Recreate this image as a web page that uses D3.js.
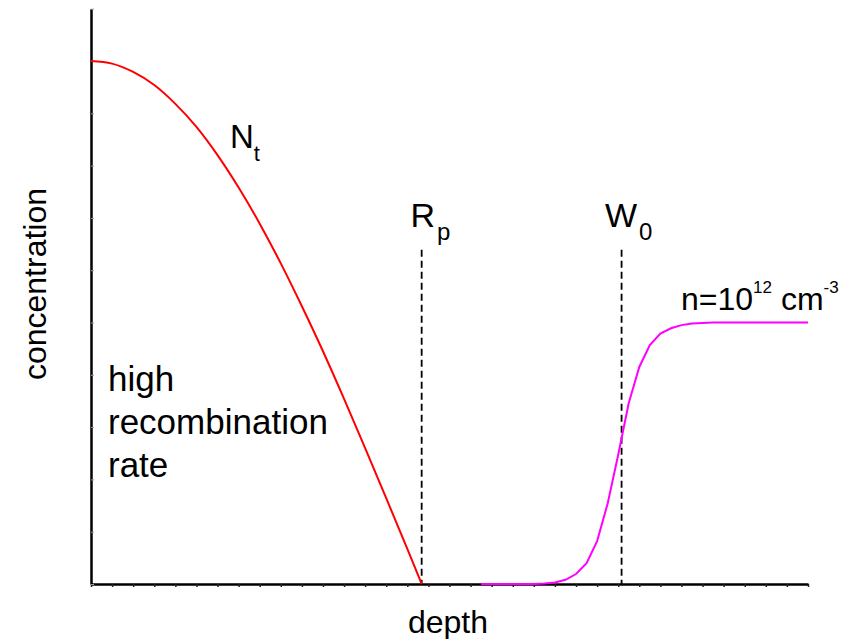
<!DOCTYPE html>
<html>
<head>
<meta charset="utf-8">
<script src="https://cdn.jsdelivr.net/npm/d3@7"></script>
<style>
  html, body { margin: 0; padding: 0; background: #fff; }
  svg { display: block; }
  text { font-family: "Liberation Sans", Arial, Helvetica, sans-serif; fill: #000; }
</style>
</head>
<body>
<svg id="chart" width="861" height="639"></svg>
<script>
// Trap density N_t versus depth (arbitrary units)
const trapDepth = [0, 1, 2, 3, 4, 5, 6, 7, 8, 9, 10, 11, 12, 13, 14, 15, 15.68];
const trapConc  = [10, 9.95, 9.79, 9.54, 9.18, 8.74, 8.20, 7.58, 6.89, 6.13, 5.31,
                   4.45, 3.54, 2.60, 1.64, 0.67, 0];

// Free carrier concentration n (saturates at 10^12 cm^-3)
const carrierDepth = [18.5, 19, 19.5, 20, 20.5, 21, 21.5, 22, 22.5, 23, 23.5, 24, 24.5, 25,
                      25.5, 26, 26.5, 27, 27.5, 28, 28.5, 29, 29.5, 30, 31, 32, 33, 34];
const carrierConc  = [0, 0, 0, 0, 0, 0, 0.01, 0.03, 0.08, 0.19, 0.40, 0.82, 1.54, 2.47,
                      3.46, 4.15, 4.57, 4.79, 4.89, 4.95, 4.98, 4.99, 5, 5, 5, 5, 5, 5];

// Marker depths: projected range R_p and depletion edge W_0
const markerNames = ["R", "W"];
const markerSubs  = ["p", "0"];
const markerDepth = [15.68, 25.16];
const markerTop   = 6.39;

// Axis extents and tick values
const xDomain = [0, 34];
const yDomain = [0, 11];
const xTicks = d3.range(0, 35, 1);
const yTicks = d3.range(0, 12, 1);

const svg = d3.select("#chart");
const x = d3.scaleLinear().domain(xDomain).range([91, 808]);
const y = d3.scaleLinear().domain(yDomain).range([584, 8.7]);

// Axes (no tick labels, small ticks)
const gx = svg.append("g").attr("transform", `translate(0,${y(0)})`)
  .call(d3.axisBottom(x).tickValues(xTicks).tickSize(3).tickSizeOuter(0).tickFormat(""));
gx.select(".domain").attr("stroke", "#000").attr("stroke-width", 2.5);
gx.selectAll(".tick line").attr("stroke", "#222").attr("stroke-width", 1.5);

const gy = svg.append("g").attr("transform", `translate(${x(0)},0)`)
  .call(d3.axisRight(y).tickValues(yTicks).tickSize(3).tickSizeOuter(0).tickFormat(""));
gy.select(".domain").attr("stroke", "#000").attr("stroke-width", 2.5);
gy.selectAll(".tick line").attr("stroke", "#999").attr("stroke-width", 1);

// Dashed marker lines
svg.append("g").selectAll("line")
  .data(markerDepth)
  .join("line")
  .attr("x1", d => x(d)).attr("x2", d => x(d))
  .attr("y1", y(markerTop)).attr("y2", y(0))
  .attr("stroke", "#000").attr("stroke-width", 1.8)
  .attr("stroke-dasharray", "7,4");

// Curves
const trapData = trapDepth.map((d, i) => [d, trapConc[i]]);
const carrierData = carrierDepth.map((d, i) => [d, carrierConc[i]]);

svg.append("path")
  .datum(trapData)
  .attr("fill", "none").attr("stroke", "#ff0000").attr("stroke-width", 2)
  .attr("d", d3.line().x(d => x(d[0])).y(d => y(d[1])).curve(d3.curveMonotoneX));

svg.append("path")
  .datum(carrierData)
  .attr("fill", "none").attr("stroke", "#ff00ff").attr("stroke-width", 2)
  .attr("d", d3.line().x(d => x(d[0])).y(d => y(d[1])));

// Axis titles
svg.append("text")
  .attr("x", 448).attr("y", 633)
  .attr("text-anchor", "middle").attr("font-size", 32)
  .text("depth");

svg.append("text")
  .attr("transform", "translate(46,284) rotate(-90)")
  .attr("text-anchor", "middle").attr("font-size", 32)
  .text("concentration");

// N_t label
const nt = svg.append("text").attr("x", 230).attr("y", 148).attr("font-size", 33);
nt.append("tspan").text("N");
nt.append("tspan").attr("font-size", 22).attr("dy", 13).text("t");

// R_p and W_0 labels above the dashed lines
const markerLabelX = [410.5, 605];
markerNames.forEach((name, i) => {
  const t = svg.append("text").attr("x", markerLabelX[i]).attr("y", 227).attr("font-size", 34);
  t.append("tspan").text(name);
  t.append("tspan").attr("font-size", 24).attr("dy", 13).attr("dx", 2).text(markerSubs[i]);
});

// Carrier level label
const nl = svg.append("text").attr("x", 681).attr("y", 310).attr("font-size", 32);
nl.append("tspan").text("n=10");
nl.append("tspan").attr("font-size", 17).attr("dy", -17).text("12");
nl.append("tspan").attr("font-size", 32).attr("dy", 17).text(" cm");
nl.append("tspan").attr("font-size", 17).attr("dy", -17).text("-3");

// Region annotation
const regionLines = ["high", "recombination", "rate"];
svg.append("g").selectAll("text")
  .data(regionLines)
  .join("text")
  .attr("x", 108)
  .attr("y", (d, i) => 391 + i * 43)
  .attr("font-size", 35)
  .text(d => d);
</script>
</body>
</html>
